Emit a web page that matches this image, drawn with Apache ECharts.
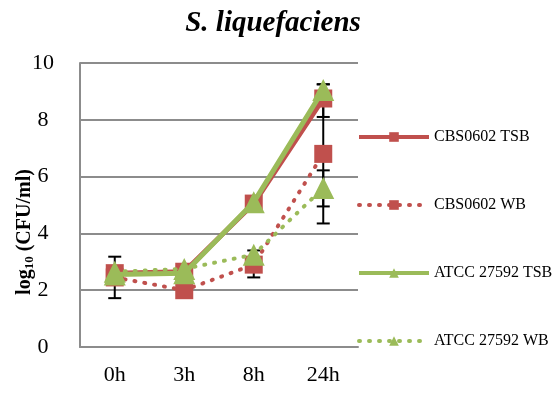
<!DOCTYPE html>
<html><head><meta charset="utf-8">
<script src="https://cdn.jsdelivr.net/npm/echarts@6/dist/echarts.min.js"></script>
<style>html,body{margin:0;padding:0;background:#fff}#c{width:560px;height:393px}</style>
</head><body><div id="c"></div>
<script>
const categories = ['0h', '3h', '8h', '24h'];
const cbsTSB = [2.6, 2.65, 5.05, 8.75];
const cbsWB = [2.45, 2.0, 2.9, 6.8];
const atccTSB = [2.55, 2.6, 5.1, 9.05];
const atccWB = [2.65, 2.75, 3.25, 5.6];
// error bars: [category index, low, high]
const errorBars = [
  [0, 1.72, 3.18],
  [2, 2.45, 3.4],
  [3, 8.1, 9.25],
  [3, 4.35, 9.25],
  [3, 4.95, 6.22]
];
const yTicks = [0, 2, 4, 6, 8, 10];

const RED = '#c0504d', GREEN = '#9bbb59';
const FONT = '"Liberation Serif", "Times New Roman", serif';
const chart = echarts.init(document.getElementById('c'));
const dotted = [1, 9];
chart.setOption({
  animation: false,
  title: {
    text: 'S. liquefaciens', left: 268, top: 4, textAlign: 'center',
    textStyle: {fontFamily: FONT, fontStyle: 'italic', fontWeight: 'bold', fontSize: 29, color: '#000'}
  },
  grid: {left: 80, right: 202, top: 63, bottom: 46},
  legend: {
    orient: 'vertical', left: 357, top: 129, padding: 0, itemWidth: 70, itemHeight: 12, itemGap: 52,
    lineStyle: {width: 4},
    textStyle: {fontFamily: FONT, fontSize: 16, lineHeight: 16, color: '#000'},
    data: ['CBS0602 TSB', 'CBS0602 WB', 'ATCC 27592 TSB', 'ATCC 27592 WB']
  },
  xAxis: {
    type: 'category', data: categories, boundaryGap: true,
    axisLine: {lineStyle: {color: '#8c8c8c', width: 2}},
    axisTick: {show: false},
    axisLabel: {fontFamily: FONT, fontSize: 22, color: '#000', margin: 17}
  },
  yAxis: {
    type: 'value', min: 0, max: 10, interval: 2,
    axisLine: {show: true, lineStyle: {color: '#8c8c8c', width: 2}},
    axisTick: {show: false},
    splitLine: {lineStyle: {color: '#8c8c8c', width: 2}},
    axisLabel: {fontFamily: FONT, fontSize: 22, color: '#000', margin: 37, align: 'center',
      formatter: v => yTicks.includes(v) ? String(v) : ''}
  },
  graphic: [{
    type: 'text', x: 25, y: 232, rotation: Math.PI / 2,
    style: {
      text: '{a|log}{s|10}{a| (CFU/ml)}', align: 'center', verticalAlign: 'middle',
      rich: {
        a: {fontFamily: FONT, fontWeight: 'bold', fontSize: 20, fill: '#000'},
        s: {fontFamily: FONT, fontWeight: 'bold', fontSize: 13, fill: '#000', padding: [10, 0, 0, 0]}
      }
    }
  }],
  series: [
    {
      type: 'custom', z: 1, silent: true,
      data: errorBars,
      renderItem: function (params, api) {
        const x = api.coord([api.value(0), api.value(1)])[0];
        const yl = api.coord([api.value(0), api.value(1)])[1];
        const yh = api.coord([api.value(0), api.value(2)])[1];
        const w = 6.5;
        const st = {stroke: '#000', lineWidth: 2};
        return {type: 'group', children: [
          {type: 'line', shape: {x1: x, y1: yl, x2: x, y2: yh}, style: st},
          {type: 'line', shape: {x1: x - w, y1: yl, x2: x + w, y2: yl}, style: st},
          {type: 'line', shape: {x1: x - w, y1: yh, x2: x + w, y2: yh}, style: st}
        ]};
      }
    },
    {name: 'CBS0602 TSB', type: 'line', z: 3, data: cbsTSB, symbol: 'rect', symbolSize: 18,
      itemStyle: {color: RED}, lineStyle: {color: RED, width: 5}},
    {name: 'CBS0602 WB', type: 'line', z: 3, data: cbsWB, symbol: 'rect', symbolSize: 18,
      itemStyle: {color: RED}, lineStyle: {color: RED, width: 4, type: dotted, cap: 'round'}},
    {name: 'ATCC 27592 TSB', type: 'line', z: 4, data: atccTSB, symbol: 'triangle', symbolSize: 22,
      itemStyle: {color: GREEN}, lineStyle: {color: GREEN, width: 5}},
    {name: 'ATCC 27592 WB', type: 'line', z: 4, data: atccWB, symbol: 'triangle', symbolSize: 22,
      itemStyle: {color: GREEN}, lineStyle: {color: GREEN, width: 4, type: dotted, cap: 'round'}}
  ]
});
</script></body></html>
